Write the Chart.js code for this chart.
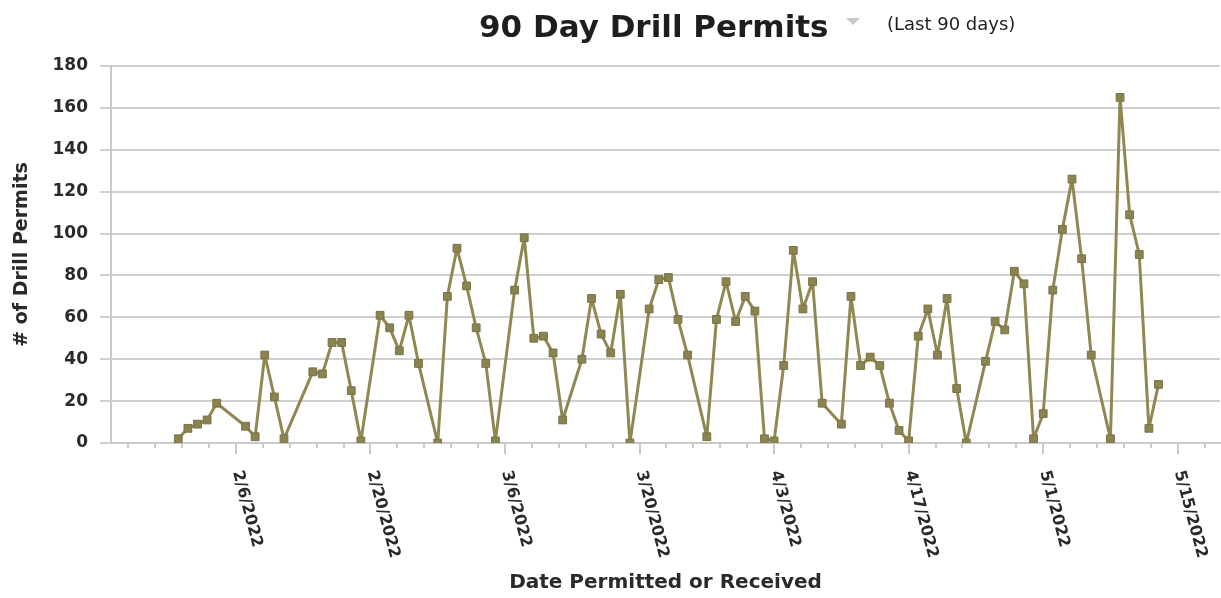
<!DOCTYPE html>
<html>
<head>
<meta charset="utf-8">
<title>90 Day Drill Permits</title>
<script src="https://cdn.jsdelivr.net/npm/chart.js@4.4.1/dist/chart.umd.min.js"></script>
<style>
    html, body { margin: 0; padding: 0; background: #ffffff; overflow: hidden; }
    #permitChart { display: block; }
</style>
</head>
<body>
<canvas id="permitChart" width="1221" height="598"></canvas>
<script>
// Permit counts per day
const permitDates = [
    '1/31/2022', '2/1/2022', '2/2/2022', '2/3/2022', '2/4/2022',
    '2/7/2022', '2/8/2022', '2/9/2022', '2/10/2022', '2/11/2022',
    '2/14/2022', '2/15/2022', '2/16/2022', '2/17/2022', '2/18/2022', '2/19/2022',
    '2/21/2022', '2/22/2022', '2/23/2022', '2/24/2022', '2/25/2022', '2/27/2022',
    '2/28/2022', '3/1/2022', '3/2/2022', '3/3/2022', '3/4/2022', '3/5/2022',
    '3/7/2022', '3/8/2022', '3/9/2022', '3/10/2022', '3/11/2022', '3/12/2022',
    '3/14/2022', '3/15/2022', '3/16/2022', '3/17/2022', '3/18/2022', '3/19/2022',
    '3/21/2022', '3/22/2022', '3/23/2022', '3/24/2022', '3/25/2022', '3/27/2022',
    '3/28/2022', '3/29/2022', '3/30/2022', '3/31/2022', '4/1/2022', '4/2/2022', '4/3/2022',
    '4/4/2022', '4/5/2022', '4/6/2022', '4/7/2022', '4/8/2022', '4/10/2022',
    '4/11/2022', '4/12/2022', '4/13/2022', '4/14/2022', '4/15/2022', '4/16/2022', '4/17/2022',
    '4/18/2022', '4/19/2022', '4/20/2022', '4/21/2022', '4/22/2022', '4/23/2022',
    '4/25/2022', '4/26/2022', '4/27/2022', '4/28/2022', '4/29/2022', '4/30/2022', '5/1/2022',
    '5/2/2022', '5/3/2022', '5/4/2022', '5/5/2022', '5/6/2022', '5/8/2022',
    '5/9/2022', '5/10/2022', '5/11/2022', '5/12/2022', '5/13/2022'
];
const permitCounts = [
    2, 7, 9, 11, 19,
    8, 3, 42, 22, 2,
    34, 33, 48, 48, 25, 1,
    61, 55, 44, 61, 38, 0,
    70, 93, 75, 55, 38, 1,
    73, 98, 50, 51, 43, 11,
    40, 69, 52, 43, 71, 0,
    64, 78, 79, 59, 42, 3,
    59, 77, 58, 70, 63, 2, 1,
    37, 92, 64, 77, 19, 9,
    70, 37, 41, 37, 19, 6, 1,
    51, 64, 42, 69, 26, 0,
    39, 58, 54, 82, 76, 2, 14,
    73, 102, 126, 88, 42, 2,
    165, 109, 90, 7, 28
];
const xTickLabels = ['2/6/2022', '2/20/2022', '3/6/2022', '3/20/2022', '4/3/2022', '4/17/2022', '5/1/2022', '5/15/2022'];
const xRange = ['1/24/2022', '5/19/2022'];

const lineColor = '#908852';
const axisColor = '#c9c9c9';
const textColor = '#2a2a2a';
const fontFamily = '"DejaVu Sans", Verdana, sans-serif';

// date string -> whole days since epoch
function dayNumber(str) {
    const [m, d, y] = str.split('/').map(Number);
    return Date.UTC(y, m - 1, d) / 86400000;
}

// Title, rotated date labels and minor ticks
const decorations = {
    id: 'decorations',
    afterDraw(chart) {
        const ctx = chart.ctx;
        const xs = chart.scales.x;
        ctx.save();

        // title
        ctx.fillStyle = '#1e1e1e';
        ctx.textBaseline = 'alphabetic';
        ctx.textAlign = 'left';
        ctx.font = 'bold 31px ' + fontFamily;
        ctx.fillText('90 Day Drill Permits', 479, 37);

        ctx.fillStyle = '#c8c8c8';
        ctx.beginPath();
        ctx.moveTo(846, 18);
        ctx.lineTo(860, 18);
        ctx.lineTo(853, 25);
        ctx.closePath();
        ctx.fill();

        ctx.fillStyle = '#1e1e1e';
        ctx.font = '18px ' + fontFamily;
        ctx.fillText('(Last 90 days)', 887, 30);

        // minor ticks, 5 per 14 days
        const step = 2.8;
        const first = dayNumber(xTickLabels[0]);
        ctx.strokeStyle = axisColor;
        ctx.lineWidth = 2;
        for (let v = first - step * 10; v <= xs.max; v += step) {
            if (v < xs.min) continue;
            const px = Math.round(xs.getPixelForValue(v));
            ctx.beginPath();
            ctx.moveTo(px, xs.top);
            ctx.lineTo(px, xs.top + 5);
            ctx.stroke();
        }

        // date labels, turned clockwise
        ctx.fillStyle = textColor;
        ctx.font = 'bold 16px ' + fontFamily;
        ctx.textBaseline = 'middle';
        xTickLabels.forEach(label => {
            const px = xs.getPixelForValue(dayNumber(label));
            ctx.save();
            ctx.translate(px + 1, xs.top + 28);
            ctx.rotate(75 * Math.PI / 180);
            ctx.fillText(label, 0, 0);
            ctx.restore();
        });

        ctx.restore();
    }
};

const chartData = {
    datasets: [{
        label: 'Drill Permits',
        data: permitDates.map((d, i) => ({ x: dayNumber(d), y: permitCounts[i] })),
        borderColor: lineColor,
        borderWidth: 3,
        borderJoinStyle: 'round',
        pointStyle: 'rect',
        pointRadius: 5.5,
        pointBackgroundColor: '#8b8350',
        pointBorderColor: '#7a7244',
        pointBorderWidth: 1,
        tension: 0
    }]
};

const config = {
    type: 'line',
    data: chartData,
    options: {
        responsive: false,
        animation: false,
        layout: {
            autoPadding: false,
            padding: { top: 66, right: 1, bottom: 0, left: 0 }
        },
        plugins: {
            legend: { display: false },
            tooltip: { enabled: false }
        },
        scales: {
            x: {
                type: 'linear',
                min: dayNumber(xRange[0]),
                max: dayNumber(xRange[1]) + 0.4,
                afterBuildTicks: (scale) => {
                    scale.ticks = xTickLabels.map(l => ({ value: dayNumber(l) }));
                },
                afterFit: (scale) => { scale.height = 155; },
                ticks: { display: false },
                grid: {
                    drawOnChartArea: false,
                    drawTicks: true,
                    tickLength: 11,
                    color: axisColor,
                    lineWidth: 2
                },
                border: { color: axisColor, width: 2 },
                title: {
                    display: true,
                    text: 'Date Permitted or Received',
                    color: textColor,
                    font: { family: fontFamily, size: 20, weight: 'bold' },
                    padding: { top: 0, bottom: 3 }
                }
            },
            y: {
                min: 0,
                max: 180,
                afterFit: (scale) => { scale.width = 111; },
                ticks: {
                    stepSize: 20,
                    padding: 12,
                    color: textColor,
                    font: { family: fontFamily, size: 17, weight: 'bold' }
                },
                grid: {
                    color: '#d0d0d0',
                    lineWidth: 2,
                    tickLength: 11
                },
                border: { color: axisColor, width: 2 },
                title: {
                    display: true,
                    text: '# of Drill Permits',
                    color: textColor,
                    font: { family: fontFamily, size: 19, weight: 'bold' },
                    padding: { top: 11, bottom: 0 }
                }
            }
        }
    },
    plugins: [decorations]
};

new Chart(document.getElementById('permitChart'), config);
</script>
</body>
</html>
